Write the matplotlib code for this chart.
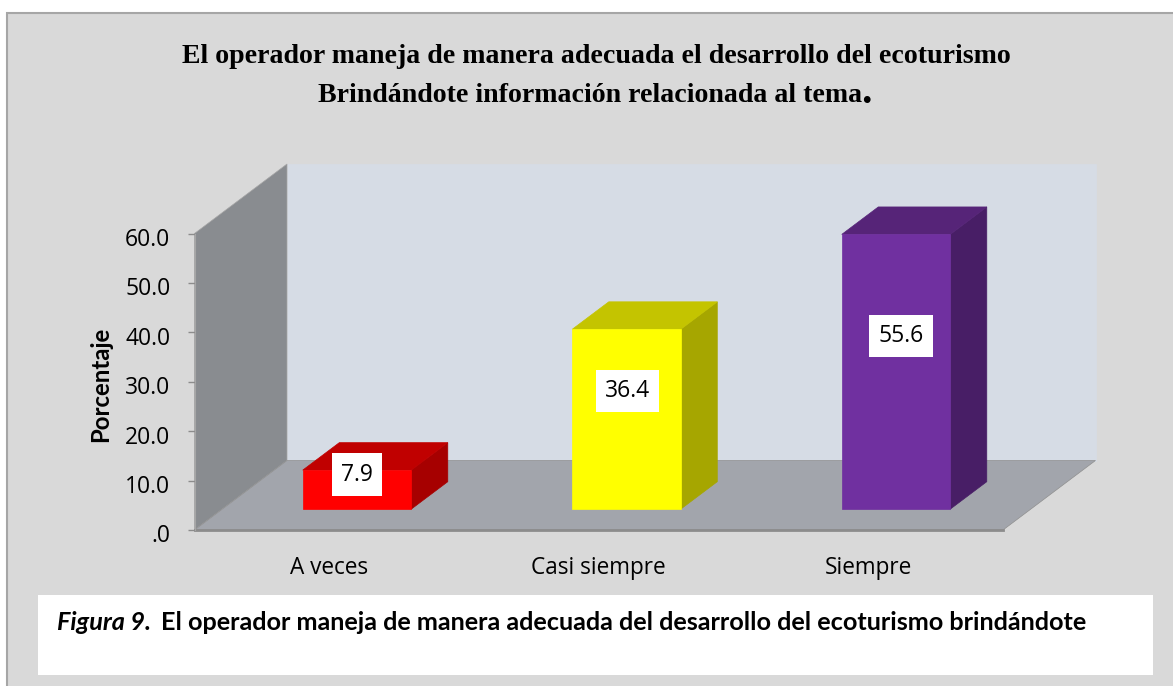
import matplotlib
matplotlib.use("Agg")
import matplotlib.pyplot as plt
from matplotlib.patches import Polygon, Rectangle
from matplotlib.transforms import ScaledTranslation

categorias = ["A veces", "Casi siempre", "Siempre"]
valores = [7.9, 36.4, 55.6]
ticks_y = [0, 10, 20, 30, 40, 50, 60]
etiquetas_y = [".0", "10.0", "20.0", "30.0", "40.0", "50.0", "60.0"]
colores_frente = ["#FF0000", "#FFFF00", "#7030A0"]
colores_arriba = ["#C00000", "#C4C400", "#562478"]
colores_lado = ["#A60000", "#A6A600", "#481E66"]

titulo_1 = "El operador maneja de manera adecuada el desarrollo del ecoturismo"
titulo_2 = "Brindándote información relacionada al tema"
pie_1 = "Figura 9."
pie_2 = "El operador maneja de manera adecuada del desarrollo del ecoturismo brindándote"

# desplazamiento de cada etiqueta desde el centro de la cara frontal, en pixeles
despl_etiqueta = [(0, 15), (1, 28), (5, 35.5)]

W, H = 1173, 686
SANS = "Open Sans"
SANS_BOLD = "Lato"

fig = plt.figure(figsize=(W / 100, H / 100), dpi=100, facecolor="white")

# fondo gris con borde, en pixeles de la imagen
fondo = fig.add_axes([0, 0, 1, 1])
fondo.set_xlim(0, W)
fondo.set_ylim(H, 0)
fondo.axis("off")
fondo.add_patch(Rectangle((7, 12.5), 1175, 700, fc="#D9D9D9", ec="#A6A6A6", lw=1.5))
fondo.add_patch(Rectangle((38, 595), 1115, 80, fc="white", ec="none"))

fondo.text(596.5, 56.5, titulo_1, family="Liberation Serif", weight="bold", fontsize=20.1,
           ha="center", va="center", color="black")
fondo.text(318, 95, titulo_2, family="Liberation Serif", weight="bold", fontsize=20.1,
           ha="left", va="center", color="black")
fondo.text(861, 93, ".", family="Liberation Serif", weight="bold", fontsize=30,
           ha="left", va="center", color="black")
fondo.text(57, 622, pie_1, family=SANS_BOLD, weight="bold", style="italic", fontsize=18.2,
           ha="left", va="center", color="black")
fondo.text(161, 622, pie_2, family=SANS_BOLD, weight="bold", fontsize=18.2,
           ha="left", va="center", color="black")

# ejes del grafico: plano frontal del piso
x0, x1 = 194.5, 1003
y0, y60 = 530, 233.5
ax = fig.add_axes([x0 / W, (H - y0) / H, (x1 - x0) / W, (y0 - y60) / H])
ax.patch.set_alpha(0)
ax.set_xlim(-0.5, 2.5)
ax.set_ylim(0, 60)

# proyeccion oblicua de la profundidad (0 frente, 1 fondo)
prof_x = 92.5 / ((x1 - x0) / 3)
prof_y = 69.5 / ((y0 - y60) / 60)


def proy(x, y, d):
    return (x + d * prof_x, y + d * prof_y)


def cara(puntos, color, borde=None, z=2):
    ax.add_patch(Polygon([proy(*p) for p in puntos], closed=True, fc=color,
                         ec=borde if borde else color, lw=0.5, clip_on=False, zorder=z))


xa, xb = -0.5, 2.5
techo = 60
cara([(xa, 0, 1), (xb, 0, 1), (xb, techo, 1), (xa, techo, 1)], "#D6DCE5", z=1)
cara([(xa, 0, 0), (xa, 0, 1), (xa, techo, 1), (xa, 60, 0)], "#898C90", borde="#A6A6A6", z=1)
cara([(xa, 0, 0), (xb, 0, 0), (xb, 0, 1), (xa, 0, 1)], "#A2A5AC", borde="#8F8F8F", z=1)
ax.plot([xa, xb], [0, 0], color="#8C8C8C", lw=2, clip_on=False, zorder=1.5)

ancho = 0.4026
d0, d1 = 0.3, 0.695
for i, v in enumerate(valores):
    xi = i - ancho / 2
    xd = xi + ancho
    cara([(xd, 0, d0), (xd, 0, d1), (xd, v, d1), (xd, v, d0)], colores_lado[i])
    cara([(xi, v, d0), (xd, v, d0), (xd, v, d1), (xi, v, d1)], colores_arriba[i])
    cara([(xi, 0, d0), (xd, 0, d0), (xd, v, d0), (xi, v, d0)], colores_frente[i], z=3)
    cx, cy = proy(i, v / 2, d0)
    dx, dy = despl_etiqueta[i]
    ax.annotate(f"{v:.1f}", (cx, cy), xytext=(dx * 0.72, dy * 0.72), textcoords="offset points",
                family=SANS, fontsize=16.5, ha="center", va="center", color="black", zorder=5,
                bbox=dict(boxstyle="square,pad=0.4", fc="white", ec="none"))

ax.set_yticks(ticks_y)
ax.set_yticklabels(etiquetas_y, family=SANS, fontsize=16.5, color="black")
ax.set_xticks(range(len(categorias)))
ax.set_xticklabels(categorias, family=SANS, fontsize=16.3, color="black")
ax.tick_params(axis="y", length=5.4, width=1, color="#8C8C8C", pad=12)
ax.tick_params(axis="x", length=0, pad=19)
# las etiquetas del eje y van un poco mas abajo que su marca
bajar = ScaledTranslation(0, -3.5 / 100, fig.dpi_scale_trans)
for et in ax.get_yticklabels():
    et.set_transform(et.get_transform() + bajar)
for lado in ["top", "right", "bottom"]:
    ax.spines[lado].set_visible(False)
ax.spines["left"].set_color("#A6A6A6")
ax.set_ylabel("Porcentaje", family=SANS_BOLD, weight="bold", fontsize=17.3, color="black")
ax.yaxis.set_label_coords((112 - x0) / (x1 - x0), (y0 - 384) / (y0 - y60))

fig.savefig("out.png", dpi=100)
